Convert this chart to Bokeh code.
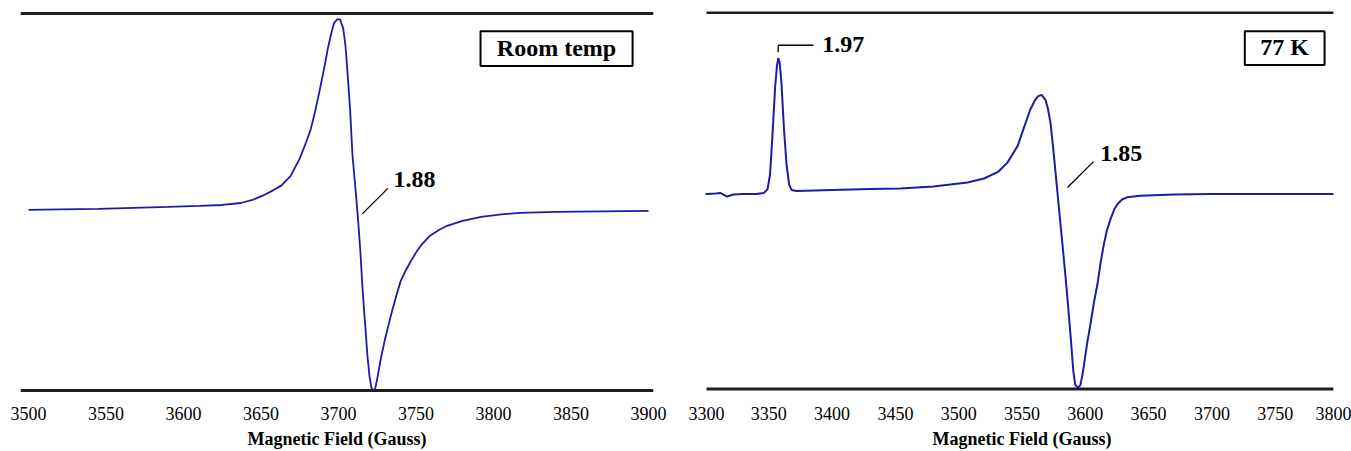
from bokeh.plotting import figure
from bokeh.layouts import row
from bokeh.models import BoxAnnotation, Label, FixedTicker, Range1d
from bokeh.embed import file_html
from bokeh.resources import INLINE

# ---------------- data ----------------
# Room temperature EPR derivative spectrum (arbitrary intensity units)
rt_field = [3500, 3520, 3545, 3568, 3590, 3610, 3625, 3637, 3645, 3652, 3658, 3663,
            3669, 3675, 3679, 3682, 3685, 3688, 3691, 3693, 3695, 3697, 3699, 3701,
            3703, 3704.5, 3706, 3707.5, 3709, 3711, 3712.5, 3714, 3715.5, 3717,
            3718.7, 3720, 3721.2, 3722.5, 3723.8, 3725, 3727, 3730, 3733.5, 3737,
            3740, 3743, 3746.5, 3750, 3753, 3759, 3765, 3770, 3780, 3792, 3805,
            3817, 3840, 3870, 3900]
rt_signal = [0, 0.5, 1, 2, 3, 4, 5, 7, 10.5, 15, 20, 24.5,
             34, 52, 68, 81, 100, 122, 145, 162, 176, 188, 192, 192,
             183, 165, 134, 100, 55, 20, -8, -40, -80, -112,
             -148, -168, -179, -183, -179, -170, -152, -130, -108, -88,
             -72, -62, -52, -43, -36, -26, -20, -16, -11, -7, -4.5,
             -3, -2, -1.5, -1]

# 77 K EPR derivative spectrum (arbitrary intensity units)
lt_field = [3300, 3308, 3312, 3317, 3322, 3330, 3340, 3346, 3349, 3351, 3353,
            3355, 3356.5, 3357.5, 3358.5, 3360, 3362, 3364, 3366, 3368, 3372,
            3400, 3430, 3454, 3480, 3507, 3520, 3531, 3538.5, 3546.5, 3551,
            3556.5, 3560, 3562.5, 3565.5, 3568.5, 3570.5, 3572.5, 3574.5, 3576.5,
            3578.5, 3580.5, 3582.5, 3584.5, 3586.5, 3588.5, 3590.5, 3592, 3594,
            3596, 3597.5, 3599, 3601.5, 3604, 3607, 3609.5, 3612, 3614.5, 3617,
            3620, 3623, 3625.5, 3629, 3633, 3643.5, 3670, 3700, 3750, 3796]
lt_signal = [0, 0.5, 1, -2.5, -0.5, 0, 0, 1, 5, 20, 62,
             108, 130, 137, 133, 112, 65, 30, 10, 4, 3,
             4, 5, 5.7, 7.7, 11.7, 15.7, 22.3, 31.7, 48.3, 65,
             85, 94, 98.5, 100, 95, 86, 71.7, 48, 21.7,
             -5, -31.7, -58, -85, -114, -145, -178, -192, -195,
             -193, -184, -172, -150, -131.7, -108, -91.7, -70, -51.7, -37,
             -25, -15, -10, -5.5, -3.3, -1.7, -0.5, 0, 0, 0]

rt_ticks = [3500, 3550, 3600, 3650, 3700, 3750, 3800, 3850, 3900]
lt_ticks = [3300, 3350, 3400, 3450, 3500, 3550, 3600, 3650, 3700, 3750, 3800]

rt_label = "Room temp"
lt_label = "77 K"
rt_g = ["1.88"]
lt_g = ["1.97", "1.85"]
x_title = "Magnetic Field (Gauss)"

# ---------------- styling ----------------
CURVE = "#1c1ca6"
SERIF = "Liberation Serif"
H = 451


def make_fig(width, xr, yr, ticks, mb_left, mb_right):
    p = figure(width=width, height=H, output_backend="svg", toolbar_location=None,
               x_range=Range1d(*xr), y_range=Range1d(*yr),
               min_border_left=mb_left, min_border_right=mb_right,
               min_border_top=11, min_border_bottom=56)
    p.outline_line_color = None
    p.grid.visible = False
    p.yaxis.visible = False
    p.background_fill_color = "white"
    p.border_fill_color = "white"
    p.xaxis.ticker = FixedTicker(ticks=ticks)
    p.xaxis.axis_line_color = None
    p.xaxis.major_tick_line_color = None
    p.xaxis.minor_tick_line_color = None
    p.xaxis.major_label_standoff = 8
    p.xaxis.major_label_text_font = SERIF
    p.xaxis.major_label_text_font_size = "18px"
    p.xaxis.major_label_text_color = "black"
    p.xaxis.axis_label = x_title
    p.xaxis.axis_label_standoff = 6
    p.xaxis.axis_label_text_font = SERIF
    p.xaxis.axis_label_text_font_style = "bold"
    p.xaxis.axis_label_text_font_size = "18px"
    p.xaxis.axis_label_text_color = "black"
    return p


def frame_band(p, x0, x1, y):
    p.add_layout(BoxAnnotation(left=x0, right=x1, bottom=y - 1.5, top=y + 1.5,
                               fill_color="#1e1e1e", fill_alpha=1.0,
                               line_color=None, level="overlay"))


def tag(p, x, y, text, align="left", size="24px"):
    p.add_layout(Label(x=x, y=y, text=text, text_font=SERIF,
                       text_font_style="bold", text_font_size=size,
                       text_color="black", text_align=align,
                       text_baseline="middle"))


def box(p, left, right, top, bottom):
    p.add_layout(BoxAnnotation(left=left, right=right, top=top, bottom=bottom,
                               fill_color="white", fill_alpha=1.0,
                               line_color="black", line_alpha=1.0, line_width=2))


# ---------------- left panel: room temperature ----------------
pl = make_fig(688, (3494.8, 3903.2), (-184, 200), rt_ticks, 20, 35)
pl.line(rt_field, rt_signal, line_color=CURVE, line_width=1.8)
frame_band(pl, 3494.8, 3903.2, 198)
frame_band(pl, 3494.8, 3903.2, -182)
pl.segment(x0=[3715.3], y0=[-4], x1=[3731.8], y1=[21.7], line_color="black", line_width=1.3)
tag(pl, 3735.5, 31, rt_g[0])
box(pl, 3791.6, 3889.7, 180, 145)
tag(pl, 3840.6, 163, rt_label, align="center")

# ---------------- right panel: 77 K ----------------
pr = make_fig(663, (3299.2, 3800.8), (-200, 184), lt_ticks, 16, 12)
pr.line(lt_field, lt_signal, line_color=CURVE, line_width=2.0)
frame_band(pr, 3300.8, 3796.0, 183)
frame_band(pr, 3300.8, 3796.0, -196.5)
pr.segment(x0=[3357.4, 3357.4], y0=[143, 150], x1=[3357.4, 3385.3], y1=[150, 150],
           line_color="black", line_width=1.3)
tag(pr, 3392.3, 151, lt_g[0])
pr.segment(x0=[3585.9], y0=[6.7], x1=[3606.5], y1=[32.7], line_color="black", line_width=1.3)
tag(pr, 3611.8, 41, lt_g[1])
box(pr, 3726.0, 3789.0, 164, 130)
tag(pr, 3757.5, 148, lt_label, align="center")

layout = row(pl, pr)
open("out.html", "w").write(file_html(layout, INLINE))
